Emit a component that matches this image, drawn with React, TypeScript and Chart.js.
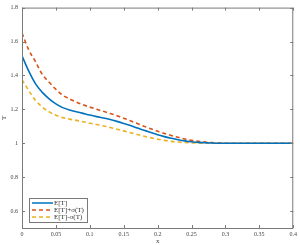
import React, { useEffect, useRef } from "react";
import { Chart, registerables } from "chart.js";

Chart.register(...registerables);

const xs = [0, 0.01, 0.02, 0.03, 0.04, 0.05, 0.06, 0.07, 0.08, 0.09, 0.1, 0.11, 0.12, 0.13, 0.14, 0.15, 0.16, 0.17, 0.18, 0.19, 0.2, 0.21, 0.22, 0.23, 0.24, 0.25, 0.26, 0.27, 0.28, 0.29, 0.3, 0.35, 0.4];
const meanT = [1.515, 1.425, 1.35, 1.3, 1.262, 1.232, 1.21, 1.196, 1.186, 1.176, 1.166, 1.157, 1.149, 1.14, 1.129, 1.117, 1.104, 1.09, 1.076, 1.063, 1.05, 1.039, 1.029, 1.021, 1.014, 1.009, 1.005, 1.003, 1.001, 1.0, 1.0, 1.0, 1.0];
const plusSigma = [1.65, 1.55, 1.48, 1.405, 1.36, 1.318, 1.283, 1.262, 1.242, 1.227, 1.213, 1.2, 1.188, 1.176, 1.162, 1.148, 1.132, 1.116, 1.1, 1.085, 1.071, 1.058, 1.046, 1.035, 1.025, 1.017, 1.011, 1.007, 1.004, 1.001, 1.0, 1.0, 1.0];
const minusSigma = [1.375, 1.31, 1.252, 1.213, 1.185, 1.165, 1.151, 1.142, 1.135, 1.127, 1.118, 1.11, 1.102, 1.093, 1.083, 1.073, 1.062, 1.051, 1.041, 1.032, 1.024, 1.017, 1.011, 1.007, 1.004, 1.002, 1.001, 1.0, 1.0, 1.0, 1.0, 1.0, 1.0];
const seriesNames = ["E[T]", "E[T]+σ(T)", "E[T]-σ(T)"];
const xTicks = [0, 0.05, 0.1, 0.15, 0.2, 0.25, 0.3, 0.35, 0.4];
const yTicks = [0.6, 0.8, 1, 1.2, 1.4, 1.6, 1.8];

const COLORS = ["#0072BD", "#D95319", "#EDB120"];
const AXIS = "#7a7a7a";

const framePlugin = {
  id: "frame",
  afterDraw(chart: any) {
    const { ctx, chartArea: a, scales } = chart;
    ctx.save();
    ctx.strokeStyle = AXIS;
    ctx.lineWidth = 1;
    ctx.strokeRect(a.left + 0.5, a.top + 0.5, a.right - a.left - 1, a.bottom - a.top);
    ctx.beginPath();
    for (const v of xTicks) {
      const px = Math.round(scales.x.getPixelForValue(v)) + 0.5;
      ctx.moveTo(px, a.bottom);
      ctx.lineTo(px, a.bottom - 3);
      ctx.moveTo(px, a.top);
      ctx.lineTo(px, a.top + 3);
    }
    for (const v of yTicks) {
      const py = Math.round(scales.y.getPixelForValue(v)) + 0.5;
      ctx.moveTo(a.left, py);
      ctx.lineTo(a.left + 3, py);
      ctx.moveTo(a.right, py);
      ctx.lineTo(a.right - 3, py);
    }
    ctx.stroke();

    // legend
    const lx = 29, ly = 198, lw = 58, lh = 24;
    ctx.fillStyle = "#fff";
    ctx.fillRect(lx, ly, lw, lh);
    ctx.strokeStyle = AXIS;
    ctx.strokeRect(lx + 0.5, ly + 0.5, lw, lh);
    ctx.font = "7px 'Liberation Serif', serif";
    ctx.textBaseline = "middle";
    ctx.textAlign = "left";
    seriesNames.forEach((name, i) => {
      const y = ly + 5 + i * 7;
      ctx.strokeStyle = COLORS[i];
      ctx.lineWidth = 1.5;
      ctx.setLineDash(i === 0 ? [] : [4, 3]);
      ctx.beginPath();
      ctx.moveTo(lx + 3, y);
      ctx.lineTo(lx + 24, y);
      ctx.stroke();
      ctx.setLineDash([]);
      ctx.fillStyle = "#333";
      ctx.fillText(name, lx + 25, y);
    });
    ctx.restore();
  },
};

export default function App() {
  const ref = useRef<HTMLCanvasElement>(null);
  useEffect(() => {
    document.body.style.margin = "0";
    const mk = (arr: number[]) => xs.map((x, i) => ({ x, y: arr[i] }));
    const chart = new Chart(ref.current!, {
      type: "line",
      data: {
        datasets: [
          { label: seriesNames[0], data: mk(meanT), borderColor: COLORS[0], borderWidth: 1.6, pointRadius: 0, cubicInterpolationMode: "monotone" },
          { label: seriesNames[1], data: mk(plusSigma), borderColor: COLORS[1], borderWidth: 1.6, borderDash: [4, 3], pointRadius: 0, cubicInterpolationMode: "monotone" },
          { label: seriesNames[2], data: mk(minusSigma), borderColor: COLORS[2], borderWidth: 1.6, borderDash: [4, 3], pointRadius: 0, cubicInterpolationMode: "monotone" },
        ],
      },
      options: {
        responsive: false,
        animation: false,
        layout: { padding: { top: 3, right: 4, left: 0, bottom: 0 } },
        plugins: { legend: { display: false }, tooltip: { enabled: false } },
        scales: {
          x: {
            type: "linear",
            min: 0,
            max: 0.4,
            afterBuildTicks: (s: any) => { s.ticks = xTicks.map((v) => ({ value: v })); },
            afterFit: (s: any) => { s.height = 17; },
            grid: { display: false, drawTicks: false },
            border: { display: false },
            ticks: { color: "#444", font: { family: "'Liberation Serif', serif", size: 6 }, padding: 3, maxRotation: 0, callback: (v: any) => String(Number(v.toFixed(2))) },
            title: { display: true, text: "x", color: "#444", font: { family: "'Liberation Serif', serif", size: 7 }, padding: 0 },
          },
          y: {
            type: "linear",
            min: 0.5,
            max: 1.8,
            afterBuildTicks: (s: any) => { s.ticks = yTicks.map((v) => ({ value: v })); },
            afterFit: (s: any) => { s.width = 22; },
            grid: { display: false, drawTicks: false },
            border: { display: false },
            ticks: { color: "#444", font: { family: "'Liberation Serif', serif", size: 6 }, padding: 4, callback: (v: any) => String(Number(v.toFixed(2))) },
            title: { display: true, text: "T", color: "#444", font: { family: "'Liberation Serif', serif", size: 7 }, padding: 0 },
          },
        },
      },
      plugins: [framePlugin],
    } as any);
    return () => chart.destroy();
  }, []);
  return <canvas ref={ref} width={300} height={245} style={{ display: "block" }} />;
}
